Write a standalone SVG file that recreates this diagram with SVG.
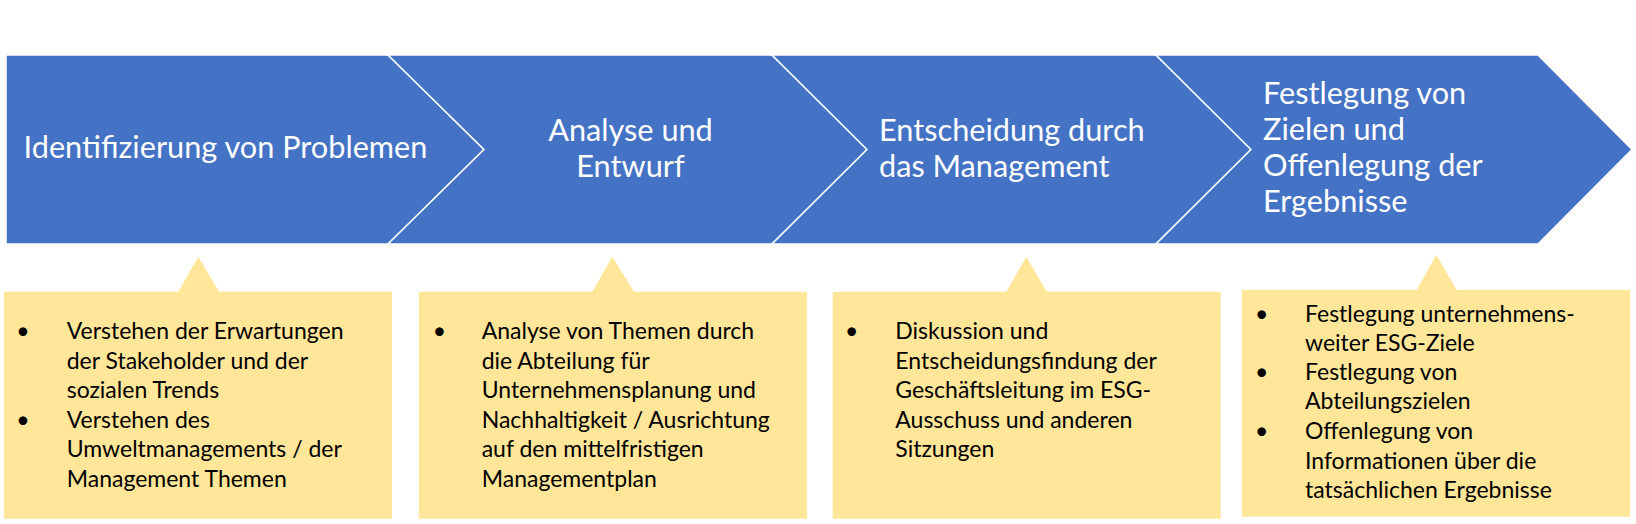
<svg xmlns="http://www.w3.org/2000/svg" width="1636" height="524" viewBox="0 0 1636 524">
<style>
.step{fill:#4472C4;stroke:#FFFFFF;stroke-width:1.5}
.box{fill:#FFE699}
.tt{font-family:Lato,"Liberation Sans",sans-serif;font-size:30.7px;fill:#FFFFFF}
.bt{font-family:Lato,"Liberation Sans",sans-serif;font-size:23px;fill:#000000}
</style>
<rect width="1636" height="524" fill="#FFFFFF"/>
<g id="step1">
<polygon class="step" points="6,55 388,55 484,149.5 388,244 6,244"/>
<text class="tt" x="225.5" y="158" text-anchor="middle">Identifizierung von Problemen</text>
</g>
<g id="step2">
<polygon class="step" points="388,55 772,55 867,149.5 772,244 388,244 484,149.5"/>
<text class="tt" text-anchor="middle"><tspan x="630.5" y="140.7">Analyse und</tspan><tspan x="630.5" y="176.7">Entwurf</tspan></text>
</g>
<g id="step3">
<polygon class="step" points="772,55 1156,55 1251,149.5 1156,244 772,244 867,149.5"/>
<text class="tt"><tspan x="879" y="140.7">Entscheidung durch</tspan><tspan x="879" y="176.7">das Management</tspan></text>
</g>
<g id="step4">
<polygon class="step" points="1156,55 1538,55 1632,149.5 1538,244 1156,244 1251,149.5"/>
<text class="tt"><tspan x="1263" y="104">Festlegung von</tspan><tspan x="1263" y="140">Zielen und</tspan><tspan x="1263" y="176">Offenlegung der</tspan><tspan x="1263" y="212">Ergebnisse</tspan></text>
</g>
<g id="box1">
<polygon class="box" points="4,291.7 178.3,291.7 198.3,256.7 219,291.7 392,291.7 392,518.7 4,518.7"/>
<text class="bt" x="23" y="339.3" text-anchor="middle">•</text>
<text class="bt" x="23" y="427.7" text-anchor="middle">•</text>
<text class="bt"><tspan x="66.7" y="339.3">Verstehen der Erwartungen</tspan><tspan x="66.7" y="369">der Stakeholder und der</tspan><tspan x="66.7" y="398.3">sozialen Trends</tspan><tspan x="66.7" y="427.7">Verstehen des</tspan><tspan x="66.7" y="457.3">Umweltmanagements / der</tspan><tspan x="66.7" y="486.7">Management Themen</tspan></text>
</g>
<g id="box2">
<polygon class="box" points="419,291.7 592.3,291.7 612.3,256.7 634,291.7 807,291.7 807,518.7 419,518.7"/>
<text class="bt" x="439.3" y="339.3" text-anchor="middle">•</text>
<text class="bt"><tspan x="481.7" y="339.3">Analyse von Themen durch</tspan><tspan x="481.7" y="369">die Abteilung für</tspan><tspan x="481.7" y="398.3">Unternehmensplanung und</tspan><tspan x="481.7" y="428">Nachhaltigkeit / Ausrichtung</tspan><tspan x="481.7" y="457.3">auf den mittelfristigen</tspan><tspan x="481.7" y="486.7">Managementplan</tspan></text>
</g>
<g id="box3">
<polygon class="box" points="832.7,291.7 1006.3,291.7 1026.3,256.7 1046.7,291.7 1220.7,291.7 1220.7,518.7 832.7,518.7"/>
<text class="bt" x="851.7" y="339.3" text-anchor="middle">•</text>
<text class="bt"><tspan x="895.3" y="339.3">Diskussion und</tspan><tspan x="895.3" y="369">Entscheidungsfindung der</tspan><tspan x="895.3" y="398.3">Geschäftsleitung im ESG-</tspan><tspan x="895.3" y="428">Ausschuss und anderen</tspan><tspan x="895.3" y="457.3">Sitzungen</tspan></text>
</g>
<g id="box4">
<polygon class="box" points="1242,290 1416.7,290 1436.3,255 1456.7,290 1630,290 1630,516.7 1242,516.7"/>
<text class="bt" x="1261.7" y="321.7" text-anchor="middle">•</text>
<text class="bt" x="1261.7" y="380" text-anchor="middle">•</text>
<text class="bt" x="1261.7" y="439" text-anchor="middle">•</text>
<text class="bt"><tspan x="1305" y="321.7">Festlegung unternehmens-</tspan><tspan x="1305" y="350.7">weiter ESG-Ziele</tspan><tspan x="1305" y="380">Festlegung von</tspan><tspan x="1305" y="409.3">Abteilungszielen</tspan><tspan x="1305" y="439">Offenlegung von</tspan><tspan x="1305" y="468.7">Informationen über die</tspan><tspan x="1305" y="498.3">tatsächlichen Ergebnisse</tspan></text>
</g>
<g id="connectors"></g>
</svg>
